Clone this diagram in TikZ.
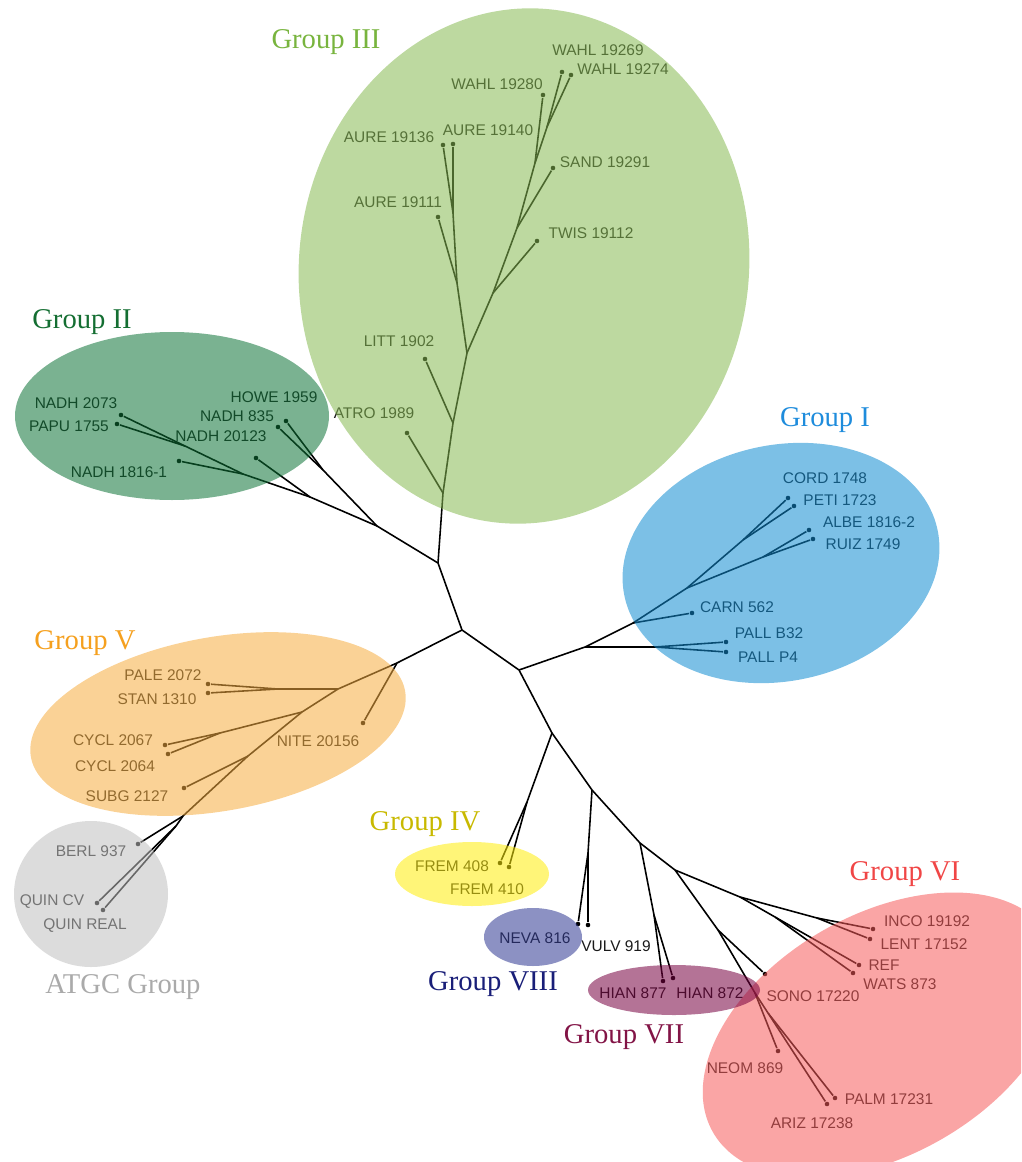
\documentclass[tikz,border=0pt]{standalone}
\usepackage{fontspec}
\setmainfont{Liberation Serif}
\setsansfont{Liberation Sans}

\definecolor{fillIII}{RGB}{135,186,82}
\definecolor{fillII}{RGB}{13,115,55}
\definecolor{fillI}{RGB}{17,140,209}
\definecolor{fillV}{RGB}{246,173,64}
\definecolor{fillATGC}{RGB}{191,191,191}
\definecolor{fillIV}{RGB}{255,237,10}
\definecolor{fillVIII}{RGB}{46,55,146}
\definecolor{fillVII}{RGB}{119,0,64}
\definecolor{fillVI}{RGB}{246,91,91}

\definecolor{titleIII}{RGB}{120,180,62}
\definecolor{titleII}{RGB}{20,110,50}
\definecolor{titleI}{RGB}{30,140,220}
\definecolor{titleV}{RGB}{245,160,30}
\definecolor{titleATGC}{RGB}{170,170,170}
\definecolor{titleIV}{RGB}{200,185,0}
\definecolor{titleVIII}{RGB}{25,30,120}
\definecolor{titleVII}{RGB}{130,20,70}
\definecolor{titleVI}{RGB}{240,70,70}

\begin{document}
\begin{tikzpicture}[x=0.02cm, y=-0.02cm, line width=0.9pt]
    \tikzset{tip node/.style={circle,fill=black,inner sep=0pt,minimum size=2.6pt},
             leaf text/.style={font=\sffamily\fontsize{8.8}{10}\selectfont,inner sep=0pt,text=black!90},
             group title/.style={font=\fontsize{16.3}{18}\selectfont,inner sep=0pt},
             group blob/.style={fill opacity=0.55}}
    \useasboundingbox (0,0) rectangle (1021,1162);
    \clip (0,0) rectangle (1021,1162);

    % Backbone of the tree
    \coordinate (root) at (462,630);
    \coordinate (n3) at (438,563);
    \coordinate (n5) at (397,663);
    \coordinate (nd) at (519,670);
    \coordinate (n1) at (585,647);
    \coordinate (nf) at (552,733);
    \coordinate (n4) at (527,802);
    \coordinate (nh) at (592,790);
    \coordinate (n8) at (588,853);
    \coordinate (ni) at (640,843);
    \coordinate (n7) at (654,915);
    \coordinate (nj) at (675,870);

    % Group III junctions and tips
    \coordinate (a3) at (443,493);
    \coordinate (b3) at (453,423);
    \coordinate (c3) at (467,353);
    \coordinate (d3) at (457,283);
    \coordinate (e3) at (453,213);
    \coordinate (f3) at (493,293);
    \coordinate (g3) at (517,228);
    \coordinate (h3) at (535,163);
    \coordinate (i3) at (547,127);
    \node[tip node] (atro) at (407,433) {};
    \node[tip node] (litt) at (425,359) {};
    \node[tip node] (aure111) at (438,217) {};
    \node[tip node] (aure136) at (443,145) {};
    \node[tip node] (aure140) at (453,144) {};
    \node[tip node] (twis) at (537,241) {};
    \node[tip node] (sand) at (553,168) {};
    \node[tip node] (wahl280) at (543,95) {};
    \node[tip node] (wahl269) at (562,72) {};
    \node[tip node] (wahl274) at (571,75) {};

    % Group II junctions and tips
    \coordinate (a2) at (377,526);
    \coordinate (b2) at (323,470);
    \coordinate (c2) at (310,497);
    \coordinate (d2) at (243,474);
    \coordinate (e2) at (185,446);
    \node[tip node] (howe) at (286,421) {};
    \node[tip node] (nadh835) at (278,427) {};
    \node[tip node] (nadh20123) at (256,458) {};
    \node[tip node] (nadh1816) at (179,461) {};
    \node[tip node] (nadh2073) at (121,415) {};
    \node[tip node] (papu) at (117,424) {};

    % Group I junctions and tips
    \coordinate (a1) at (633,623);
    \coordinate (b1) at (687,588);
    \coordinate (c1) at (743,540);
    \coordinate (d1) at (763,557);
    \coordinate (e1) at (655,647);
    \node[tip node] (cord) at (788,498) {};
    \node[tip node] (peti) at (794,506) {};
    \node[tip node] (albe) at (809,530) {};
    \node[tip node] (ruiz) at (813,539) {};
    \node[tip node] (carn) at (692,613) {};
    \node[tip node] (pallb) at (726,642) {};
    \node[tip node] (pallp) at (726,652) {};

    % Group V and ATGC junctions and tips
    \coordinate (a5) at (338,689);
    \coordinate (b5) at (278,689);
    \coordinate (c5) at (302,712);
    \coordinate (d5) at (220,733);
    \coordinate (e5) at (248,756);
    \coordinate (f5) at (183,816);
    \coordinate (g5) at (176,826);
    \node[tip node] (nite) at (363,723) {};
    \node[tip node] (pale) at (208,684) {};
    \node[tip node] (stan) at (208,693) {};
    \node[tip node] (cycla) at (165,745) {};
    \node[tip node] (cyclb) at (168,754) {};
    \node[tip node] (subg) at (184,788) {};
    \node[tip node] (berl) at (138,844) {};
    \node[tip node] (quincv) at (97,903) {};
    \node[tip node] (quinreal) at (103,910) {};

    % Groups IV, VIII, VII tips
    \node[tip node] (frema) at (500,863) {};
    \node[tip node] (fremb) at (509,867) {};
    \node[tip node] (neva) at (578,924) {};
    \node[tip node] (vulv) at (588,925) {};
    \node[tip node] (hiana) at (663,981) {};
    \node[tip node] (hianb) at (673,978) {};

    % Group VI junctions and tips
    \coordinate (a6) at (718,930);
    \coordinate (b6) at (755,993);
    \coordinate (c6) at (768,1013);
    \coordinate (d6) at (740,897);
    \coordinate (e6) at (817,918);
    \coordinate (f6) at (775,917);
    \node[tip node] (sono) at (765,974) {};
    \node[tip node] (neom) at (778,1051) {};
    \node[tip node] (palm) at (835,1098) {};
    \node[tip node] (ariz) at (827,1104) {};
    \node[tip node] (inco) at (873,929) {};
    \node[tip node] (lent) at (870,939) {};
    \node[tip node] (ref) at (859,965) {};
    \node[tip node] (wats) at (853,973) {};

    % Branches
    \draw (n3) -- (root) -- (nd) -- (nf) -- (nh) -- (ni) -- (nj);
    \draw (root) -- (n5);
    \draw (nd) -- (n1);
    \draw (nf) -- (n4);
    \draw (nh) -- (n8);
    \draw (ni) -- (n7);

    \draw (n3) -- (a3) -- (b3) -- (c3) -- (d3) -- (e3);
    \draw (c3) -- (f3) -- (g3) -- (h3) -- (i3);
    \draw (a3) -- (atro);
    \draw (b3) -- (litt);
    \draw (d3) -- (aure111);
    \draw (e3) -- (aure136);
    \draw (e3) -- (aure140);
    \draw (f3) -- (twis);
    \draw (g3) -- (sand);
    \draw (h3) -- (wahl280);
    \draw (i3) -- (wahl269);
    \draw (i3) -- (wahl274);

    \draw (n3) -- (a2) -- (c2) -- (d2) -- (e2);
    \draw (a2) -- (b2);
    \draw (b2) -- (howe);
    \draw (b2) -- (nadh835);
    \draw (c2) -- (nadh20123);
    \draw (d2) -- (nadh1816);
    \draw (e2) -- (nadh2073);
    \draw (e2) -- (papu);

    \draw (n1) -- (a1) -- (b1) -- (c1);
    \draw (b1) -- (d1);
    \draw (n1) -- (e1);
    \draw (a1) -- (carn);
    \draw (c1) -- (cord);
    \draw (c1) -- (peti);
    \draw (d1) -- (albe);
    \draw (d1) -- (ruiz);
    \draw (e1) -- (pallb);
    \draw (e1) -- (pallp);

    \draw (n5) -- (a5) -- (c5) -- (e5) -- (f5) -- (g5);
    \draw (a5) -- (b5);
    \draw (c5) -- (d5);
    \draw (n5) -- (nite);
    \draw (b5) -- (pale);
    \draw (b5) -- (stan);
    \draw (d5) -- (cycla);
    \draw (d5) -- (cyclb);
    \draw (e5) -- (subg);
    \draw (f5) -- (berl);
    \draw (g5) -- (quincv);
    \draw (g5) -- (quinreal);

    \draw (n4) -- (frema);
    \draw (n4) -- (fremb);
    \draw (n8) -- (neva);
    \draw (n8) -- (vulv);
    \draw (n7) -- (hiana);
    \draw (n7) -- (hianb);

    \draw (nj) -- (a6) -- (b6) -- (c6);
    \draw (nj) -- (d6) -- (e6);
    \draw (d6) -- (f6);
    \draw (a6) -- (sono);
    \draw (b6) -- (neom);
    \draw (c6) -- (palm);
    \draw (c6) -- (ariz);
    \draw (e6) -- (inco);
    \draw (e6) -- (lent);
    \draw (f6) -- (ref);
    \draw (f6) -- (wats);

    % Leaf labels
    \node[leaf text] (lwahl269) at (598,50) {WAHL 19269};
    \node[leaf text] (lwahl274) at (623,69) {WAHL 19274};
    \node[leaf text] (lwahl280) at (497,84) {WAHL 19280};
    \node[leaf text] (laure140) at (488,130) {AURE 19140};
    \node[leaf text] (laure136) at (389,137) {AURE 19136};
    \node[leaf text] (lsand) at (605,162) {SAND 19291};
    \node[leaf text] (laure111) at (398,202) {AURE 19111};
    \node[leaf text] (ltwis) at (591,233) {TWIS 19112};
    \node[leaf text] (llitt) at (399,341) {LITT 1902};
    \node[leaf text] (latro) at (374,413) {ATRO 1989};

    \node[leaf text] (lhowe) at (274,397) {HOWE 1959};
    \node[leaf text] (lnadh835) at (237,416) {NADH 835};
    \node[leaf text] (lnadh20123) at (221,436) {NADH 20123};
    \node[leaf text] (lnadh2073) at (76,403) {NADH 2073};
    \node[leaf text] (lpapu) at (69,426) {PAPU 1755};
    \node[leaf text] (lnadh1816) at (119,472) {NADH 1816-1};

    \node[leaf text] (lcord) at (825,478) {CORD 1748};
    \node[leaf text] (lpeti) at (840,500) {PETI 1723};
    \node[leaf text] (lalbe) at (869,522) {ALBE 1816-2};
    \node[leaf text] (lruiz) at (863,544) {RUIZ 1749};
    \node[leaf text] (lcarn) at (737,607) {CARN 562};
    \node[leaf text] (lpallb) at (769,633) {PALL B32};
    \node[leaf text] (lpallp) at (768,657) {PALL P4};

    \node[leaf text] (lpale) at (163,675) {PALE 2072};
    \node[leaf text] (lstan) at (157,699) {STAN 1310};
    \node[leaf text] (lcycla) at (113,740) {CYCL 2067};
    \node[leaf text] (lcyclb) at (115,766) {CYCL 2064};
    \node[leaf text] (lsubg) at (127,796) {SUBG 2127};
    \node[leaf text] (lnite) at (318,741) {NITE 20156};
    \node[leaf text] (lberl) at (91,851) {BERL 937};
    \node[leaf text] (lquincv) at (52,902) {QUIN CV};
    \node[leaf text] (lquinreal) at (85,926) {QUIN REAL};

    \node[leaf text] (lfrema) at (452,866) {FREM 408};
    \node[leaf text] (lfremb) at (487,889) {FREM 410};
    \node[leaf text] (lneva) at (535,938) {NEVA 816};
    \node[leaf text] (lvulv) at (616,946) {VULV 919};
    \node[leaf text] (lhiana) at (633,993) {HIAN 877};
    \node[leaf text] (lhianb) at (710,993) {HIAN 872};

    \node[leaf text] (linco) at (927,921) {INCO 19192};
    \node[leaf text] (llent) at (924,944) {LENT 17152};
    \node[leaf text] (lref) at (884,965) {REF};
    \node[leaf text] (lwats) at (900,984) {WATS 873};
    \node[leaf text] (lsono) at (813,996) {SONO 17220};
    \node[leaf text] (lneom) at (745,1068) {NEOM 869};
    \node[leaf text] (lpalm) at (889,1099) {PALM 17231};
    \node[leaf text] (lariz) at (812,1123) {ARIZ 17238};

    % Group areas, laid over the tree
    \fill[fillIII, group blob] (524,266) ellipse [x radius=225, y radius=258, rotate=-6];
    \fill[fillII, group blob] (172,416) ellipse [x radius=157, y radius=84];
    \fill[fillI, group blob] (781,563) ellipse [x radius=160, y radius=118, rotate=12];
    \fill[fillV, group blob] (218,724) ellipse [x radius=190, y radius=87, rotate=10];
    \fill[fillATGC, group blob] (91,894) ellipse [x radius=77, y radius=73];
    \fill[fillIV, group blob] (472,874) ellipse [x radius=77, y radius=32];
    \fill[fillVIII, group blob] (533,937) ellipse [x radius=49, y radius=29];
    \fill[fillVI, group blob] (882,1035) ellipse [x radius=195, y radius=120, rotate=30];
    \fill[fillVII, group blob] (674,990) ellipse [x radius=86, y radius=25];

    % Group titles
    \node[group title, text=titleIII] (tIII) at (326,42) {Group III};
    \node[group title, text=titleII] (tII) at (82,322) {Group II};
    \node[group title, text=titleI] (tI) at (825,420) {Group I};
    \node[group title, text=titleV] (tV) at (85,643) {Group V};
    \node[group title, text=titleATGC] (tATGC) at (123,987) {ATGC Group};
    \node[group title, text=titleIV] (tIV) at (425,824) {Group IV};
    \node[group title, text=titleVIII] (tVIII) at (493,984) {Group VIII};
    \node[group title, text=titleVII] (tVII) at (624,1037) {Group VII};
    \node[group title, text=titleVI] (tVI) at (905,874) {Group VI};
\end{tikzpicture}
\end{document}
